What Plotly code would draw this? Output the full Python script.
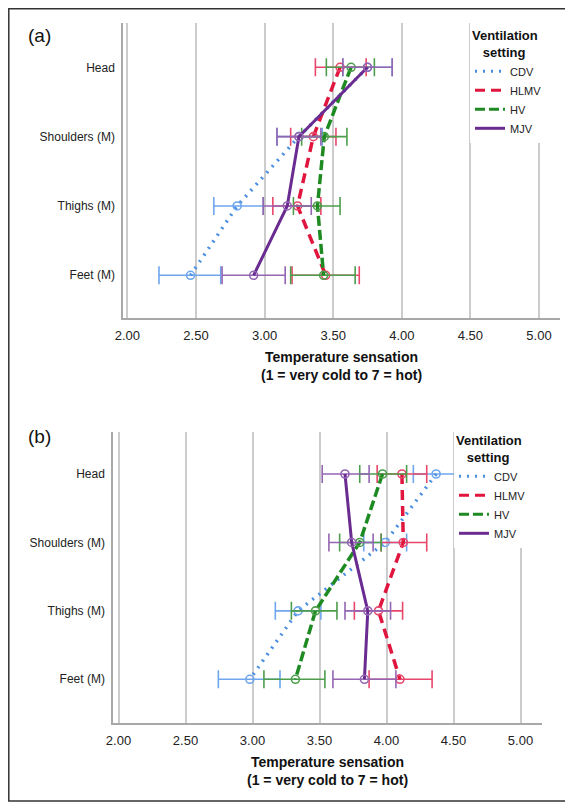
import plotly.graph_objects as go

W, H = 573, 803

# ---------------- data ----------------
categories = ["Head", "Shoulders (M)", "Thighs (M)", "Feet (M)"]
settings = ["CDV", "HLMV", "HV", "MJV"]

x_tickvals = [2.0, 2.5, 3.0, 3.5, 4.0, 4.5, 5.0]
x_ticktext = ["2.00", "2.50", "3.00", "3.50", "4.00", "4.50", "5.00"]

# panel (a)
a_cdv = [3.75, 3.25, 2.80, 2.46]
a_cdv_lo = [3.57, 3.09, 2.63, 2.23]
a_cdv_hi = [3.93, 3.42, 2.99, 2.68]
a_hlmv = [3.55, 3.355, 3.24, 3.445]
a_hlmv_lo = [3.37, 3.19, 3.06, 3.20]
a_hlmv_hi = [3.74, 3.52, 3.41, 3.69]
a_hv = [3.63, 3.435, 3.385, 3.43]
a_hv_lo = [3.45, 3.27, 3.21, 3.19]
a_hv_hi = [3.80, 3.60, 3.55, 3.66]
a_mjv = [3.75, 3.25, 3.165, 2.92]
a_mjv_lo = [3.57, 3.09, 2.99, 2.69]
a_mjv_hi = [3.93, 3.41, 3.34, 3.15]

# panel (b)
b_cdv = [4.37, 3.99, 3.34, 2.98]
b_cdv_lo = [4.20, 3.83, 3.17, 2.745]
b_cdv_hi = [4.53, 4.15, 3.51, 3.205]
b_hlmv = [4.115, 4.125, 3.94, 4.10]
b_hlmv_lo = [3.93, 3.96, 3.76, 3.87]
b_hlmv_hi = [4.30, 4.30, 4.12, 4.34]
b_hv = [3.97, 3.80, 3.47, 3.32]
b_hv_lo = [3.80, 3.65, 3.29, 3.085]
b_hv_hi = [4.15, 3.96, 3.63, 3.54]
b_mjv = [3.69, 3.74, 3.86, 3.835]
b_mjv_lo = [3.52, 3.57, 3.69, 3.60]
b_mjv_hi = [3.87, 3.90, 4.03, 4.07]

panel_a = {
    "CDV": (a_cdv, a_cdv_lo, a_cdv_hi),
    "HLMV": (a_hlmv, a_hlmv_lo, a_hlmv_hi),
    "HV": (a_hv, a_hv_lo, a_hv_hi),
    "MJV": (a_mjv, a_mjv_lo, a_mjv_hi),
}
panel_b = {
    "CDV": (b_cdv, b_cdv_lo, b_cdv_hi),
    "HLMV": (b_hlmv, b_hlmv_lo, b_hlmv_hi),
    "HV": (b_hv, b_hv_lo, b_hv_hi),
    "MJV": (b_mjv, b_mjv_lo, b_mjv_hi),
}

# ---------------- styles ----------------
line_color = {"CDV": "#4b8fe3", "HLMV": "#e0163f", "HV": "#1e8a22", "MJV": "#6a2c91"}
err_color = {"CDV": "#6fa6ee", "HLMV": "#e8466a", "HV": "#4c9e4c", "MJV": "#9466b2"}
dash = {"CDV": "2px,6px", "HLMV": "10px,6px", "HV": "10px,4px", "MJV": "solid"}
lwidth = {"CDV": 3.5, "HLMV": 3.5, "HV": 3.5, "MJV": 3}

FONT = "Liberation Sans, Arial, sans-serif"
OX, OY = 8, 8  # page body margin offset

fig = go.Figure()


def add_panel(data, xa, ya, legend_name):
    for s in settings:
        mean, lo, hi = data[s]
        plus = [h - m for h, m in zip(hi, mean)]
        minus = [m - l for m, l in zip(mean, lo)]
        fig.add_trace(go.Scatter(
            x=mean, y=categories, xaxis=xa, yaxis=ya,
            mode="lines+markers", showlegend=False, name=s,
            line=dict(color=line_color[s], width=lwidth[s], dash=dash[s]),
            marker=dict(symbol="circle-open", size=8, color=err_color[s],
                        line=dict(width=1.6, color=err_color[s])),
            error_x=dict(type="data", symmetric=False, array=plus, arrayminus=minus,
                         color=err_color[s], thickness=1.6, width=9),
        ))
    for s in settings:
        fig.add_trace(go.Scatter(
            x=[None], y=[None], xaxis=xa, yaxis=ya, mode="lines", name=s,
            legend=legend_name,
            line=dict(color=line_color[s], width=3, dash=dash[s]),
        ))


add_panel(panel_a, "x", "y", "legend")
add_panel(panel_b, "x2", "y2", "legend2")


def px_x(p):
    return (p - OX) / W


def px_y(p):
    return 1 - (p - OY) / H


xcommon = dict(
    tickvals=x_tickvals, ticktext=x_ticktext, showgrid=True, gridcolor="#cccccc",
    gridwidth=1.5, showline=True, linecolor="#a8a8a8", linewidth=2, zeroline=False,
    ticks="outside", ticklen=4, tickcolor="rgba(0,0,0,0)", automargin=False,
    tickfont=dict(family=FONT, size=13, color="#222222"),
)
ycommon = dict(
    type="category", categoryorder="array", categoryarray=categories,
    showgrid=False, showline=True, linecolor="#a8a8a8", linewidth=2, zeroline=False,
    ticks="outside", ticklen=4, tickcolor="rgba(0,0,0,0)", automargin=False,
    tickfont=dict(family=FONT, size=12, color="#222222"),
)

legcommon = dict(
    bgcolor="white", borderwidth=0, xanchor="left", yanchor="top",
    font=dict(family=FONT, size=11, color="#222222"), tracegroupgap=0,
    itemwidth=30,
    title=dict(text="<b>Ventilation<br>&#160;&#160;&#160;setting</b>", side="top",
               font=dict(family=FONT, size=13, color="#111111")),
)

title_font = dict(family=FONT, size=14, color="#111111")
annotations = [
    dict(text="(a)", x=px_x(26), y=px_y(35), xref="paper", yref="paper",
         xanchor="left", yanchor="middle", showarrow=False,
         font=dict(family=FONT, size=19, color="#111111")),
    dict(text="(b)", x=px_x(26), y=px_y(436), xref="paper", yref="paper",
         xanchor="left", yanchor="middle", showarrow=False,
         font=dict(family=FONT, size=19, color="#111111")),
]
for cx, cy in [((123.3 + 560) / 2, 366), ((113.3 + 541.7) / 2, 771)]:
    annotations.append(dict(text="<b>Temperature sensation<br>(1 = very cold to 7 = hot)</b>",
                            x=px_x(cx), y=px_y(cy), xref="paper", yref="paper",
                            xanchor="center", yanchor="middle", showarrow=False,
                            font=title_font))

fig.update_layout(
    width=W, height=H, margin=dict(l=0, r=0, t=0, b=0),
    paper_bgcolor="white", plot_bgcolor="white",
    font=dict(family=FONT),
    xaxis=dict(domain=[px_x(123.3), px_x(560)], range=[1.970, 5.153], anchor="y", **xcommon),
    yaxis=dict(domain=[px_y(318), px_y(23)], range=[3.616, -0.639], anchor="x", **ycommon),
    xaxis2=dict(domain=[px_x(113.3), px_x(541.7)], range=[1.961, 5.158], anchor="y2", **xcommon),
    yaxis2=dict(domain=[px_y(723), px_y(432)], range=[3.639, -0.614], anchor="x2", **ycommon),
    legend=dict(x=px_x(470), y=px_y(23), **legcommon),
    legend2=dict(x=px_x(454), y=px_y(428), **legcommon),
    annotations=annotations,
    shapes=[
        dict(type="rect", xref="paper", yref="paper",
             x0=px_x(8.8), x1=px_x(590), y0=px_y(801), y1=px_y(8.8),
             line=dict(color="#333333", width=1.5), fillcolor="rgba(0,0,0,0)", layer="above"),
    ],
)

fig.write_html("out.html")
